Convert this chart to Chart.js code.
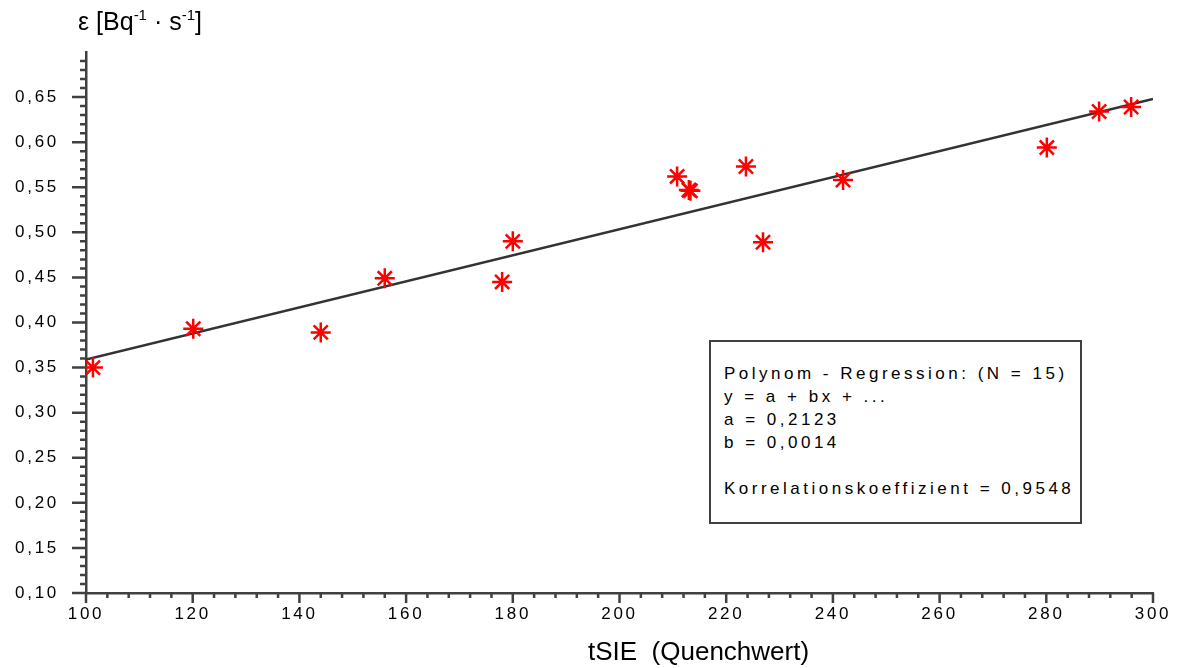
<!DOCTYPE html>
<html>
<head>
<meta charset="utf-8">
<script src="https://cdn.jsdelivr.net/npm/chart.js@4/dist/chart.umd.min.js"></script>
<style>
  body { margin: 0; background: #fff; }
  #wrap { position: relative; width: 1181px; height: 668px; font-family: "Liberation Sans", Arial, sans-serif; color: #000; }
  #chart { position: absolute; left: 0; top: 0; }
  .ytitle { position: absolute; left: 78px; top: 7px; font-size: 25px; white-space: nowrap; }
  .ytitle sup { font-size: 15px; vertical-align: 10px; line-height: 0; }
  .xtitle { position: absolute; left: 588px; top: 636px; font-size: 26px; white-space: pre; }
  .statbox { position: absolute; left: 709px; top: 340px; width: 373px; height: 184px; border: 2.5px solid #404040; background: #fff;
             font-size: 17px; letter-spacing: 3.5px; line-height: 23px; padding: 20px 0 0 13px; box-sizing: border-box; white-space: pre; }
</style>
</head>
<body>
<div id="wrap">
  <canvas id="chart" width="1181" height="668"></canvas>
  <div class="ytitle">ε [Bq<sup>-1</sup> · s<sup>-1</sup>]</div>
  <div class="xtitle">tSIE  (Quenchwert)</div>
  <div class="statbox">Polynom - Regression: (N = 15)
y = a + bx + ...
a = 0,2123
b = 0,0014

Korrelationskoeffizient = 0,9548</div>
</div>
<script>
// measured points (tSIE vs efficiency)
const tsie = [101.3, 120.1, 144.0, 156.0, 178.0, 180.0, 210.8, 213.0, 213.3, 223.7, 226.9, 241.9, 280.1, 289.9, 295.9];
const eff  = [0.350, 0.393, 0.389, 0.449, 0.445, 0.490, 0.562, 0.547, 0.546, 0.573, 0.489, 0.558, 0.594, 0.634, 0.639];

// regression line end points as drawn
const fitX = [100, 300];
const fitY = [0.359, 0.648];

const xMin = 100, xMax = 300, xMajor = 20, xMinor = 4;
const yMin = 0.10, yMax = 0.70, yMajor = 0.05, yMinor = 0.01;

const axisColor = '#404040';

const points = tsie.map((x, i) => ({ x: x, y: eff[i] }));
const fitLine = fitX.map((x, i) => ({ x: x, y: fitY[i] }));

function fmt(v) {
  return v.toFixed(2).replace('.', ',');
}

// tick marks of two lengths, drawn from the chart's scales
const tickMarks = {
  id: 'tickMarks',
  beforeDraw(chart) {
    chart.ctx.letterSpacing = '2.7px';
  },
  afterDraw(chart) {
    const ctx = chart.ctx;
    const x = chart.scales.x, y = chart.scales.y;
    const bottom = chart.chartArea.bottom, left = chart.chartArea.left;
    ctx.save();
    ctx.strokeStyle = axisColor;
    ctx.lineWidth = 2.5;
    ctx.beginPath();
    const nx = Math.round((xMax - xMin) / xMinor);
    for (let i = 0; i <= nx; i++) {
      const v = xMin + i * xMinor;
      const px = x.getPixelForValue(v);
      const len = (i % (xMajor / xMinor) === 0) ? 10 : 5;
      ctx.moveTo(px, bottom);
      ctx.lineTo(px, bottom + len);
    }
    const ny = Math.round((yMax - yMin) / yMinor);
    for (let i = 0; i < ny; i++) {
      const v = yMin + i * yMinor;
      const py = y.getPixelForValue(v);
      const len = (i % 5 === 0) ? 14 : 6;
      ctx.moveTo(left, py);
      ctx.lineTo(left - len, py);
    }
    ctx.stroke();
    ctx.restore();
    ctx.letterSpacing = '0px';
  }
};

new Chart(document.getElementById('chart'), {
  type: 'scatter',
  data: {
    datasets: [
      {
        label: 'Messwerte',
        data: points,
        pointStyle: 'star',
        radius: 10,
        borderColor: '#ff0000',
        backgroundColor: '#ff0000',
        borderWidth: 2.5,
        showLine: false
      },
      {
        label: 'Regression',
        data: fitLine,
        showLine: true,
        borderColor: '#333333',
        borderWidth: 2.5,
        pointRadius: 0,
        fill: false
      }
    ]
  },
  options: {
    responsive: false,
    animation: false,
    layout: { padding: { left: 0, right: 28, top: 52, bottom: 0 } },
    plugins: { legend: { display: false }, tooltip: { enabled: false } },
    scales: {
      x: {
        type: 'linear',
        min: xMin,
        max: xMax,
        afterFit: s => { s.height = 75; },
        border: { display: true, color: axisColor, width: 2.5 },
        grid: { display: false, drawTicks: false },
        ticks: {
          stepSize: xMajor,
          padding: 11,
          color: '#000',
          font: { family: '"Liberation Sans", Arial, sans-serif', size: 17 },
          maxRotation: 0
        }
      },
      y: {
        type: 'linear',
        min: yMin,
        max: yMax,
        afterFit: s => { s.width = 86; },
        border: { display: true, color: axisColor, width: 2.5 },
        grid: { display: false, drawTicks: false },
        ticks: {
          stepSize: yMajor,
          padding: 27,
          color: '#000',
          font: { family: '"Liberation Sans", Arial, sans-serif', size: 17 },
          callback: v => (v > 0.675 ? '' : fmt(v))
        }
      }
    }
  },
  plugins: [tickMarks]
});
</script>
</body>
</html>
